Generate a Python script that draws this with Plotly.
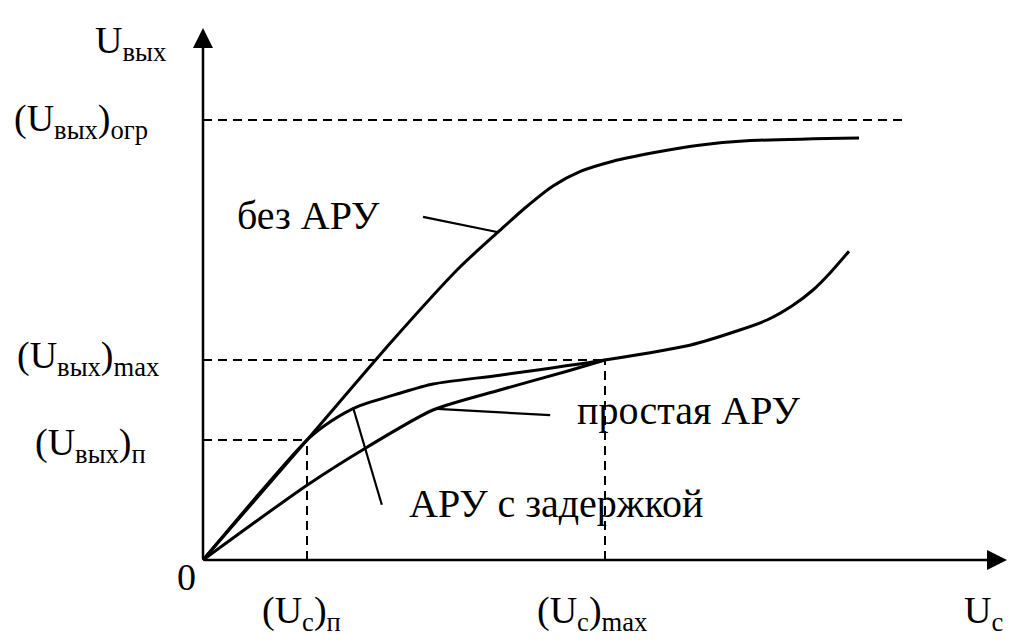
import plotly.graph_objects as go

# ---- data (abstract units: Uc horizontal, Uвых vertical) ----
bez_x = [0, 2.6, 4.75, 6.4, 7.4, 8.05, 8.75, 9.45, 10.25, 11.25, 12.4, 13.6, 16.4]
bez_y = [0, 3.0, 5.5, 7.3, 8.22, 8.8, 9.35, 9.72, 9.97, 10.18, 10.37, 10.48, 10.55]

zad_x = [0, 2.6, 3.2, 3.85, 4.92, 5.75, 7.42, 10.05, 12.17, 13.42, 14.1, 14.75, 15.25, 15.67, 16.15]
zad_y = [0, 3.0, 3.47, 3.83, 4.17, 4.4, 4.62, 5.0, 5.37, 5.75, 6.0, 6.37, 6.75, 7.17, 7.72]

prost_x = [0, 2.6, 4.1, 5.75, 7.42, 9.1, 10.05]
prost_y = [0, 1.87, 2.82, 3.75, 4.25, 4.72, 5.0]

U_ogr = 11.0
U_max = 5.0
U_p = 3.0
Uc_p = 2.6
Uc_max = 10.05
ogr_end = 17.55

x_axis_end = 20.1
y_axis_end = 13.3

# leader lines: (x0, y0, x1, y1)
leaders = [
    (5.5, 8.58, 7.35, 8.2),     # без АРУ
    (5.85, 3.78, 8.68, 3.62),   # простая АРУ
    (3.75, 3.82, 4.47, 1.38),   # АРУ с задержкой
]

curve_labels = ["без АРУ", "простая АРУ", "АРУ с задержкой"]
curve_label_pos = [(0.8, 8.62), (9.3, 3.75), (5.1, 1.42)]

axis_labels = [
    ("U<sub>вых</sub>", -2.75, 12.92),
    ("(U<sub>вых</sub>)<sub>огр</sub>", -4.78, 10.98),
    ("(U<sub>вых</sub>)<sub>max</sub>", -4.7, 5.05),
    ("(U<sub>вых</sub>)<sub>п</sub>", -4.25, 2.87),
    ("0", -0.7, -0.42),
    ("(U<sub>c</sub>)<sub>п</sub>", 1.42, -1.33),
    ("(U<sub>c</sub>)<sub>max</sub>", 8.3, -1.33),
    ("U<sub>c</sub>", 18.97, -1.33),
]

FONT = "Liberation Serif, Times New Roman, serif"
fig = go.Figure()

curve_line = dict(color="black", width=3, shape="spline", smoothing=0.7)
for xs, ys in [(bez_x, bez_y), (zad_x, zad_y), (prost_x, prost_y)]:
    fig.add_trace(go.Scatter(x=xs, y=ys, mode="lines", line=curve_line,
                             hoverinfo="skip", showlegend=False))

dash_line = dict(color="black", width=2, dash="9px,6px")
dashed = [
    ([0, ogr_end], [U_ogr, U_ogr]),
    ([0, Uc_max], [U_max, U_max]),
    ([0, Uc_p], [U_p, U_p]),
    ([Uc_p, Uc_p], [0, U_p]),
    ([Uc_max, Uc_max], [0, U_max]),
]
for xs, ys in dashed:
    fig.add_trace(go.Scatter(x=xs, y=ys, mode="lines", line=dash_line,
                             hoverinfo="skip", showlegend=False))

for x0, y0, x1, y1 in leaders:
    fig.add_trace(go.Scatter(x=[x0, x1], y=[y0, y1], mode="lines",
                             line=dict(color="black", width=2.2),
                             hoverinfo="skip", showlegend=False))

# axes with arrows
for tip, tail in [((x_axis_end, 0), (0, 0)), ((0, y_axis_end), (0, 0))]:
    fig.add_annotation(x=tip[0], y=tip[1], ax=tail[0], ay=tail[1],
                       xref="x", yref="y", axref="x", ayref="y",
                       text="", showarrow=True, arrowhead=2, arrowsize=1.6,
                       arrowwidth=2.5, arrowcolor="black")

for txt, (x, y) in zip(curve_labels, curve_label_pos):
    fig.add_annotation(x=x, y=y, text=txt, showarrow=False, xanchor="left",
                       yanchor="middle", font=dict(family=FONT, size=40, color="black"))

for txt, x, y in axis_labels:
    fig.add_annotation(x=x, y=y, text=txt, showarrow=False, xanchor="left",
                       yanchor="middle", font=dict(family=FONT, size=38, color="black"))

# page body has an 8px margin; the figure is sized/ranged to compensate
fig.update_layout(
    width=1011, height=634,
    margin=dict(l=0, r=0, t=0, b=0),
    paper_bgcolor="white", plot_bgcolor="white",
    xaxis=dict(range=[-4.875, 20.4], visible=False, fixedrange=True),
    yaxis=dict(range=[-2.05, 13.8], visible=False, fixedrange=True),
)

fig.write_html("out.html")
